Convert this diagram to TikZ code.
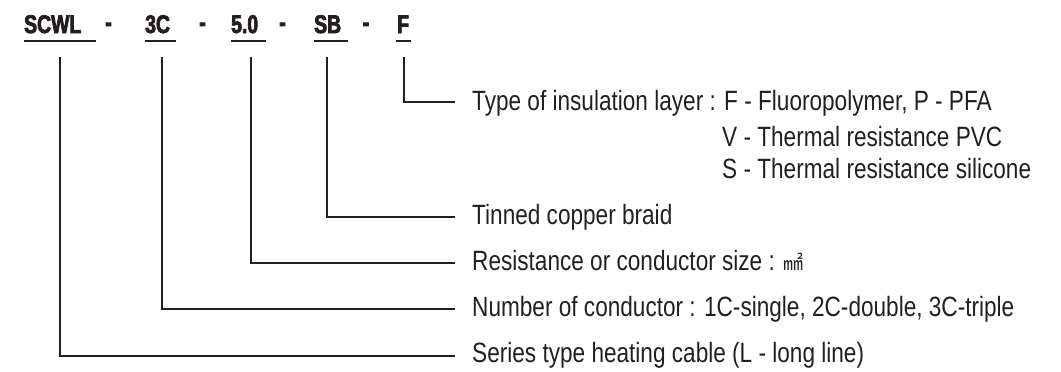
\documentclass[tikz,border=0pt]{standalone}
\usepackage{fontspec}
\setmainfont[FakeStretch=0.81]{Liberation Sans}
\newfontfamily\codefont[FakeStretch=0.76,FakeBold=3]{Liberation Sans Bold}
\newfontfamily\cjk{Noto Sans CJK SC}
\definecolor{ink}{RGB}{35,31,32}
\begin{document}
\begin{tikzpicture}[x=1pt,y=-1pt,
  code/.style={anchor=base west,inner sep=0pt,font=\codefont\fontsize{25.5pt}{26pt}\selectfont,text=ink},
  desc/.style={anchor=base west,inner sep=0pt,font=\fontsize{27.9pt}{30pt}\selectfont,text=ink},
  uline/.style={draw=ink,line width=2.4pt},
  conn/.style={draw=ink,line width=1.5pt}]
\useasboundingbox (0,0) rectangle (1061,372);
% code letters
\node[code] (c1) at (24,33) {SCWL};
\node[code,anchor=base] (h1) at (108.5,31) {-};
\node[code] (c2) at (145,33) {3C};
\node[code,anchor=base] (h2) at (202.5,31) {-};
\node[code] (c3) at (231,33) {5.0};
\node[code,anchor=base] (h3) at (282.5,31) {-};
\node[code] (c4) at (314,33) {SB};
\node[code,anchor=base] (h4) at (366,31) {-};
\node[code] (c5) at (397,33) {F};
% underlines
\draw[uline] (24,41) -- (96,41);
\draw[uline] (145,41) -- (176,41);
\draw[uline] (231,41) -- (266,41);
\draw[uline] (314,41) -- (348,41);
\draw[uline] (396,41) -- (411,41);
% descriptions
\node[desc] (d5) at (472,110) {Type of insulation layer : F - Fluoropolymer, P - PFA};
\node[desc] (d5b) at (722,146) {V - Thermal resistance PVC};
\node[desc] (d5c) at (722,178) {S - Thermal resistance silicone};
\node[desc] (d4) at (472,224) {Tinned copper braid};
\node[desc] (d3) at (472,270) {Resistance or conductor size : {\cjk\fontsize{20pt}{20pt}\selectfont ㎟}};
\node[desc] (d2) at (472,316) {Number of conductor : 1C-single, 2C-double, 3C-triple};
\node[desc] (d1) at (472,362) {Series type heating cable (L - long line)};
% connector start points
\coordinate (t1) at (60,57);
\coordinate (t2) at (162,57);
\coordinate (t3) at (251,57);
\coordinate (t4) at (327,57);
\coordinate (t5) at (404,57);
\draw[conn] (t5) |- ([shift={(-17pt,8pt)}]d5.base west);
\draw[conn] (t4) |- ([shift={(-17pt,7pt)}]d4.base west);
\draw[conn] (t3) |- ([shift={(-17pt,7pt)}]d3.base west);
\draw[conn] (t2) |- ([shift={(-17pt,7pt)}]d2.base west);
\draw[conn] (t1) |- ([shift={(-17pt,6pt)}]d1.base west);
\end{tikzpicture}
\end{document}
